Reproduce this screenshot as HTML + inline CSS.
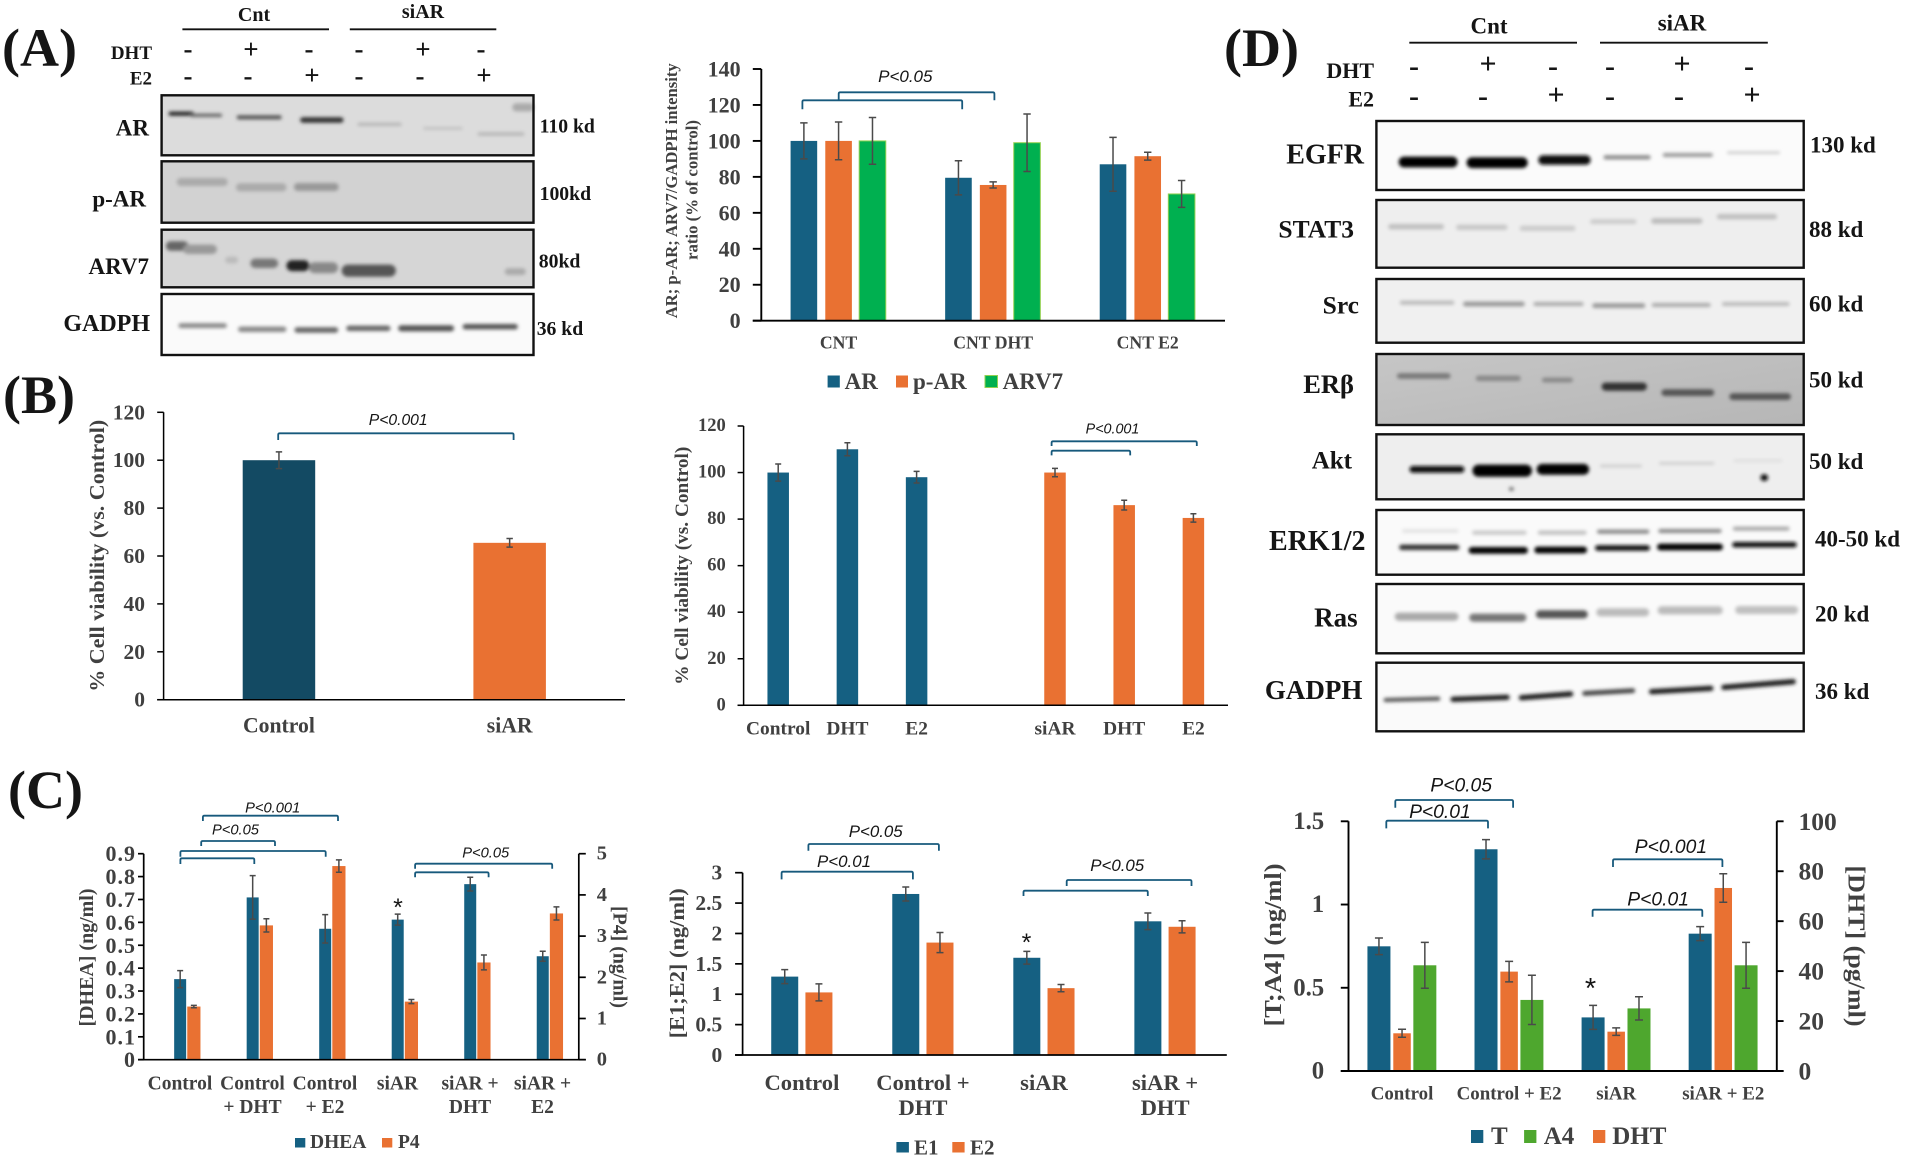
<!DOCTYPE html>
<html lang="en">
<head>
<meta charset="utf-8">
<title>Western blots and bar charts, panels A to D</title>
<style>
html,body{margin:0;padding:0;background:#fff;}
svg{display:block;filter:blur(0.35px);}
text{font-family:"Liberation Serif",serif;font-weight:bold;fill:#404040;dominant-baseline:central;}
text.k{fill:#151515;}
text.p{font-family:"Liberation Sans",sans-serif;font-weight:normal;font-style:italic;fill:#151515;text-anchor:middle;}
text.r{text-anchor:end;}
text.m{text-anchor:middle;}
</style>
</head>
<body>
<svg id="figure" xmlns="http://www.w3.org/2000/svg" width="1907" height="1159" viewBox="0 0 1907 1159">
<defs>
<filter id="soft" filterUnits="userSpaceOnUse" x="0" y="0" width="1907" height="1159"><feGaussianBlur stdDeviation="1.8"/></filter>
<linearGradient id="er-bg" x1="0" y1="0" x2="1" y2="1"><stop offset="0" stop-color="#c6c6c6"/><stop offset="1" stop-color="#b6b6b6"/></linearGradient>
</defs>
<rect width="1907" height="1159" fill="#fff"/>

<!-- panel letters -->
<text class="k" x="2" y="48" font-size="54">(A)</text>
<text class="k" x="3" y="395" font-size="54">(B)</text>
<text class="k" x="8" y="790" font-size="54">(C)</text>
<text class="k" x="1224" y="48" font-size="54">(D)</text>

<!-- blot A header -->
<g>
<text class="k m" x="254" y="15" font-size="20">Cnt</text>
<text class="k m" x="423" y="12" font-size="20">siAR</text>
<line x1="182.4" x2="329" y1="29.3" y2="29.3" stroke="#111" stroke-width="1.8"/>
<line x1="349.8" x2="496.3" y1="29.3" y2="29.3" stroke="#111" stroke-width="1.8"/>
<text class="k r" x="152" y="53.3" font-size="19">DHT</text>
<text class="k r" x="152" y="79" font-size="19">E2</text>
<g font-size="27">
<text class="k m" x="188" y="49">-</text><text class="k m" x="251" y="49">+</text><text class="k m" x="309" y="49">-</text><text class="k m" x="359" y="49">-</text><text class="k m" x="423" y="49">+</text><text class="k m" x="481" y="49">-</text>
<text class="k m" x="188" y="76">-</text><text class="k m" x="248" y="76">-</text><text class="k m" x="312" y="75">+</text><text class="k m" x="359" y="76">-</text><text class="k m" x="420" y="76">-</text><text class="k m" x="484" y="75">+</text>
</g>
<text class="k r" x="149" y="128" font-size="23">AR</text>
<text class="k r" x="146" y="199" font-size="23">p-AR</text>
<text class="k r" x="149" y="266.7" font-size="23">ARV7</text>
<text class="k r" x="150" y="324" font-size="24">GADPH</text>
<text class="k" x="539.6" y="126.7" font-size="19.7">110 kd</text>
<text class="k" x="539.6" y="194" font-size="19.7">100kd</text>
<text class="k" x="538.8" y="261.7" font-size="19.7">80kd</text>
<text class="k" x="536.7" y="329" font-size="19.7">36 kd</text>
</g>

<!-- blot D header -->
<g>
<text class="k m" x="1489" y="26" font-size="23">Cnt</text>
<text class="k m" x="1682" y="23" font-size="23">siAR</text>
<line x1="1409.3" x2="1577" y1="42.7" y2="42.7" stroke="#111" stroke-width="1.9"/>
<line x1="1600" x2="1767.8" y1="42.7" y2="42.7" stroke="#111" stroke-width="1.9"/>
<text class="k r" x="1374" y="70.7" font-size="22">DHT</text>
<text class="k r" x="1374" y="99" font-size="22">E2</text>
<g font-size="30">
<text class="k m" x="1414" y="66">-</text><text class="k m" x="1488" y="64">+</text><text class="k m" x="1553" y="66">-</text><text class="k m" x="1610" y="66">-</text><text class="k m" x="1682" y="64">+</text><text class="k m" x="1749" y="66">-</text>
<text class="k m" x="1414" y="96">-</text><text class="k m" x="1483" y="96">-</text><text class="k m" x="1556" y="95">+</text><text class="k m" x="1610" y="96">-</text><text class="k m" x="1679" y="96">-</text><text class="k m" x="1752" y="95">+</text>
</g>
<text class="k r" x="1364" y="155" font-size="28">EGFR</text>
<text class="k r" x="1354" y="229" font-size="25.5">STAT3</text>
<text class="k r" x="1359" y="305" font-size="25.5">Src</text>
<text class="k r" x="1354" y="384" font-size="26.5">ERβ</text>
<text class="k r" x="1352" y="461" font-size="25">Akt</text>
<text class="k r" x="1365.5" y="541.7" font-size="28">ERK1/2</text>
<text class="k r" x="1357.6" y="617.3" font-size="27">Ras</text>
<text class="k r" x="1362.4" y="690" font-size="27">GADPH</text>
<text class="k" x="1810" y="145" font-size="23">130 kd</text>
<text class="k" x="1809" y="229.3" font-size="23">88 kd</text>
<text class="k" x="1809" y="304" font-size="23">60 kd</text>
<text class="k" x="1809" y="380" font-size="23">50 kd</text>
<text class="k" x="1809" y="461.7" font-size="23">50 kd</text>
<text class="k" x="1815" y="539" font-size="23">40-50 kd</text>
<text class="k" x="1815" y="614" font-size="23">20 kd</text>
<text class="k" x="1815" y="691.7" font-size="23">36 kd</text>
</g>

<!-- axis titles -->
<text class="m" transform="translate(671.4,190.8) rotate(-90)" font-size="16.5" textLength="255" lengthAdjust="spacingAndGlyphs">AR; p-AR; ARV7/GADPH intensity</text>
<text class="m" transform="translate(691.8,190) rotate(-90)" font-size="16.5" textLength="140" lengthAdjust="spacingAndGlyphs">ratio (% of control)</text>
<text class="m" transform="translate(96.8,555.8) rotate(-90)" font-size="21" textLength="272" lengthAdjust="spacingAndGlyphs">% Cell viability (vs. Control)</text>
<text class="m" transform="translate(682.5,565.7) rotate(-90)" font-size="19" textLength="238" lengthAdjust="spacingAndGlyphs">% Cell viability (vs. Control)</text>
<text class="m" transform="translate(87,957.5) rotate(-90)" font-size="20" textLength="138" lengthAdjust="spacingAndGlyphs">[DHEA] (ng/ml)</text>
<text class="m" transform="translate(619.6,957) rotate(90)" font-size="20" textLength="102" lengthAdjust="spacingAndGlyphs">[P4] (ng/ml)</text>
<text class="m" transform="translate(677,963.3) rotate(-90)" font-size="21" textLength="150" lengthAdjust="spacingAndGlyphs">[E1;E2] (ng/ml)</text>
<text class="m" transform="translate(1274,945) rotate(-90)" font-size="24" textLength="163" lengthAdjust="spacingAndGlyphs">[T;A4] (ng/ml)</text>
<text class="m" transform="translate(1855.5,946) rotate(90)" font-size="24" textLength="161" lengthAdjust="spacingAndGlyphs">[DHT] (pg/ml)</text>

<!-- legends -->
<g>
<rect x="827.6" y="375.5" width="12.2" height="12" fill="#156082"/>
<text x="844.6" y="381.7" font-size="23">AR</text>
<rect x="896" y="375.5" width="12" height="12" fill="#e97132"/>
<text x="913" y="381.7" font-size="23">p-AR</text>
<rect x="985" y="375.5" width="12.5" height="12" fill="#00b050" stroke="#92d050"/>
<text x="1002.6" y="381.7" font-size="23">ARV7</text>
</g>
<g>
<rect x="295" y="1138" width="10.3" height="9.5" fill="#156082"/>
<text x="310" y="1142.7" font-size="19.5">DHEA</text>
<rect x="382" y="1138" width="10.3" height="9.5" fill="#e97132"/>
<text x="398" y="1142.7" font-size="19.5">P4</text>
</g>
<g>
<rect x="896.4" y="1142" width="12.5" height="10.5" fill="#156082"/>
<text x="914" y="1147.3" font-size="21">E1</text>
<rect x="952.3" y="1142" width="12.3" height="10.5" fill="#e97132"/>
<text x="970" y="1147.3" font-size="21">E2</text>
</g>
<g>
<rect x="1471" y="1130" width="12.3" height="13" fill="#156082"/>
<text x="1491" y="1136.7" font-size="25">T</text>
<rect x="1524.1" y="1130" width="12.3" height="13" fill="#4ea72e"/>
<text x="1543.7" y="1136.7" font-size="25">A4</text>
<rect x="1593" y="1130" width="12.3" height="13" fill="#e97132"/>
<text x="1612.2" y="1136.7" font-size="25">DHT</text>
</g>

<!-- significance annotations text -->
<g>
<text class="p" x="905.3" y="76.7" font-size="17">P&lt;0.05</text>
<text class="p" x="398.2" y="420.7" font-size="15.7">P&lt;0.001</text>
<text class="p" x="1112.5" y="429.3" font-size="14.3">P&lt;0.001</text>
<text class="p" x="272.7" y="808.3" font-size="14.7">P&lt;0.001</text>
<text class="p" x="235.5" y="830.7" font-size="14.7">P&lt;0.05</text>
<text class="p" x="485.7" y="853.7" font-size="14.7">P&lt;0.05</text>
<text class="p" x="875.7" y="831.7" font-size="16.9">P&lt;0.05</text>
<text class="p" x="844" y="861.7" font-size="16.9">P&lt;0.01</text>
<text class="p" x="1117.2" y="865.3" font-size="16.9">P&lt;0.05</text>
<text class="p" x="1461.2" y="786" font-size="19.3">P&lt;0.05</text>
<text class="p" x="1439.9" y="812.7" font-size="19.3">P&lt;0.01</text>
<text class="p" x="1670.9" y="847.3" font-size="19.3">P&lt;0.001</text>
<text class="p" x="1658.1" y="900" font-size="19.3">P&lt;0.01</text>
<text class="k m" style="font-family:'Liberation Sans',sans-serif;font-weight:normal" x="398" y="908" font-size="25">*</text>
<text class="k m" style="font-family:'Liberation Sans',sans-serif;font-weight:normal" x="1026.5" y="943" font-size="25">*</text>
<text class="k m" style="font-family:'Liberation Sans',sans-serif;font-weight:normal" x="1590.5" y="989" font-size="29">*</text>
</g>
</svg>

<script>
// ---- Chart data: AR / p-AR / ARV7 band ratio ----
const ratioCategories = ['CNT', 'CNT DHT', 'CNT E2'];
const ratioTicks = [0, 20, 40, 60, 80, 100, 120, 140];
const ratioAR = [100, 79.5, 87];
const ratioAREr = [10, 9.5, 15];
const ratioPAR = [100, 75.5, 91.5];
const ratioPAREr = [10.5, 1.7, 2.2];
const ratioARV7 = [100, 99, 70.5];
const ratioARV7Er = [13, 16, 7.5];

// ---- Chart data: cell viability, control vs siAR ----
const viabilityCategories = ['Control', 'siAR'];
const viabilityTicks = [0, 20, 40, 60, 80, 100, 120];
const viabilityControl = [100, null];
const viabilityControlEr = [3.5, null];
const viabilitySiAR = [null, 65.5];
const viabilitySiAREr = [null, 1.8];

// ---- Chart data: cell viability by treatment ----
const treatmentCategories = ['Control', 'DHT', 'E2', '', 'siAR', 'DHT', 'E2'];
const treatmentTicks = [0, 20, 40, 60, 80, 100, 120];
const treatmentControl = [100, 110, 98, null, null, null, null];
const treatmentControlEr = [3.7, 2.8, 2.5, null, null, null, null];
const treatmentSiAR = [null, null, null, null, 100, 86, 80.5];
const treatmentSiAREr = [null, null, null, null, 1.8, 2.1, 1.8];

// ---- Chart data: DHEA and P4 ----
const dheaCategories = ['Control', 'Control\n+ DHT', 'Control\n+ E2', 'siAR', 'siAR +\nDHT', 'siAR +\nE2'];
const dheaTicks = [0, 0.1, 0.2, 0.3, 0.4, 0.5, 0.6, 0.7, 0.8, 0.9];
const p4Ticks = [0, 1, 2, 3, 4, 5];
const dheaValues = [0.352, 0.709, 0.572, 0.612, 0.767, 0.452];
const dheaEr = [0.037, 0.095, 0.062, 0.024, 0.03, 0.022];
const p4Values = [1.29, 3.26, 4.7, 1.41, 2.36, 3.55];
const p4Er = [0.03, 0.16, 0.15, 0.05, 0.18, 0.16];

// ---- Chart data: E1 and E2 ----
const estrogenCategories = ['Control', 'Control +\nDHT', 'siAR', 'siAR +\nDHT'];
const estrogenTicks = [0, 0.5, 1, 1.5, 2, 2.5, 3];
const e1Values = [1.29, 2.65, 1.6, 2.2];
const e1Er = [0.115, 0.115, 0.105, 0.137];
const e2Values = [1.03, 1.85, 1.1, 2.11];
const e2Er = [0.14, 0.165, 0.06, 0.1];

// ---- Chart data: T, DHT and A4 ----
const androgenCategories = ['Control', 'Control + E2', 'siAR', 'siAR + E2'];
const androgenTicks = [0, 0.5, 1, 1.5];
const dhtTicks = [0, 20, 40, 60, 80, 100];
const tValues = [0.749, 1.332, 0.322, 0.825];
const tEr = [0.05, 0.058, 0.072, 0.042];
const dhtValues = [15.1, 39.8, 15.75, 73.3];
const dhtEr = [1.6, 4.1, 1.5, 5.7];
const a4Values = [0.635, 0.427, 0.376, 0.635];
const a4Er = [0.138, 0.148, 0.07, 0.138];

const SVG_NS = 'http://www.w3.org/2000/svg';
const fig = document.getElementById('figure');
const BLUE = '#156082', ORANGE = '#e97132', GREEN = '#00b050', LEAF = '#4ea72e';

function el(tag, attrs, parent) {
  const node = document.createElementNS(SVG_NS, tag);
  for (const k in attrs) node.setAttribute(k, attrs[k]);
  (parent || fig).appendChild(node);
  return node;
}

function drawChart(c) {
  const group = el('g', {});
  
  
  const step = (c.right - c.left) / c.categories.length;
  const xScale = i => c.left + (i + 0.5) * step;
  const yScale = (v, max) => c.bottom - (v / max) * (c.bottom - c.top);

  c.series.forEach(s => {
    s.values.forEach((v, i) => {
      if (v === null) return;
      const cx = xScale(i) + s.offset;
      const bar = el('rect', {
        x: cx - s.width / 2, y: yScale(v, s.max), width: s.width,
        height: c.bottom - yScale(v, s.max), fill: s.color
      }, group);
      if (s.stroke) { bar.setAttribute('stroke', s.stroke); bar.setAttribute('stroke-width', '1'); }
      
      
      const hi = yScale(v + s.errors[i], s.max), lo = yScale(v - s.errors[i], s.max);
      const err = el('path', {
        d: 'M' + cx + ' ' + hi + 'V' + lo + 'M' + (cx - c.cap) + ' ' + hi + 'H' + (cx + c.cap) + 'M' + (cx - c.cap) + ' ' + lo + 'H' + (cx + c.cap),
        stroke: '#4a4a4a', 'stroke-width': 1.5, fill: 'none'
      }, group);
      
      
    });
  });

  const rightEnd = c.rightAxis ? c.right + c.rightAxis.tick : c.right;
  const xAxis = el('line', { x1: c.left - c.tick, x2: rightEnd, y1: c.bottom, y2: c.bottom, stroke: '#000', 'stroke-width': c.axisWidth }, group);
  
  
  const yAxis = el('line', { x1: c.left, x2: c.left, y1: c.top, y2: c.bottom, stroke: '#000', 'stroke-width': c.axisWidth }, group);
  
  

  c.ticks.forEach(t => {
    const y = yScale(t, c.max);
    const tm = el('line', { x1: c.left - c.tick, x2: c.left, y1: y, y2: y, stroke: '#000', 'stroke-width': c.axisWidth }, group);
    
    
    const lb = el('text', { x: c.left - c.tickLabelGap, y: y, 'font-size': c.tickFont, 'text-anchor': 'end' }, group);
    if (c.tickSpacing) lb.setAttribute('letter-spacing', c.tickSpacing);
    lb.textContent = String(t);
    
    
  });

  if (c.rightAxis) {
    const ra = c.rightAxis;
    const rAxis = el('line', { x1: c.right, x2: c.right, y1: c.top, y2: c.bottom, stroke: '#000', 'stroke-width': c.axisWidth }, group);
    
    
    ra.ticks.forEach(t => {
      const y = yScale(t, ra.max);
      const tm = el('line', { x1: c.right, x2: c.right + ra.tick, y1: y, y2: y, stroke: '#000', 'stroke-width': c.axisWidth }, group);
      
      
      const lb = el('text', { x: c.right + ra.labelGap, y: y, 'font-size': ra.font }, group);
      lb.textContent = String(t);
      
      
    });
  }

  c.categories.forEach((cat, i) => {
    cat.split('\n').forEach((line, j) => {
      const lb = el('text', { x: xScale(i) + c.labelDx, y: c.labelY + j * c.labelLine, 'font-size': c.labelFont, 'text-anchor': 'middle' }, group);
      lb.textContent = line;
      
      
    });
  });
}

drawChart({
  name: 'band-ratio', categories: ratioCategories, ticks: ratioTicks, max: 140,
  left: 761.3, right: 1225, bottom: 320.7, top: 69, tick: 8.5, axisWidth: 1.9, cap: 3.7,
  tickLabelGap: 20.7, tickFont: 22, labelY: 342.3, labelLine: 0, labelFont: 17.7, labelDx: 0,
  series: [
    { name: 'ar', values: ratioAR, errors: ratioAREr, color: BLUE, width: 26.6, offset: -34.7, max: 140 },
    { name: 'p-ar', values: ratioPAR, errors: ratioPAREr, color: ORANGE, width: 26.6, offset: 0, max: 140 },
    { name: 'arv7', values: ratioARV7, errors: ratioARV7Er, color: GREEN, stroke: '#92d050', width: 26.6, offset: 33.9, max: 140 }
  ]
});
drawChart({
  name: 'viability', categories: viabilityCategories, ticks: viabilityTicks, max: 120,
  left: 163.6, right: 625, bottom: 699.7, top: 412.3, tick: 6.4, axisWidth: 1.5, cap: 3.2,
  tickLabelGap: 18.6, tickFont: 21.5, labelY: 725.7, labelLine: 0, labelFont: 21.7, labelDx: 0,
  series: [
    { name: 'control', values: viabilityControl, errors: viabilityControlEr, color: '#134a63', width: 72.5, offset: 0, max: 120 },
    { name: 'siar', values: viabilitySiAR, errors: viabilitySiAREr, color: ORANGE, width: 72.5, offset: 0, max: 120 }
  ]
});
drawChart({
  name: 'viability-treatment', categories: treatmentCategories, ticks: treatmentTicks, max: 120,
  left: 743.6, right: 1228, bottom: 705.3, top: 426, tick: 6, axisWidth: 1.5, cap: 3,
  tickLabelGap: 17.8, tickFont: 18.5, labelY: 729, labelLine: 0, labelFont: 19.4, labelDx: 0,
  series: [
    { name: 'control', values: treatmentControl, errors: treatmentControlEr, color: BLUE, width: 21.5, offset: 0, max: 120 },
    { name: 'siar', values: treatmentSiAR, errors: treatmentSiAREr, color: ORANGE, width: 21.5, offset: 0, max: 120 }
  ]
});
drawChart({
  name: 'dhea-p4', categories: dheaCategories, ticks: dheaTicks, max: 0.9,
  left: 143.7, right: 578.8, bottom: 1059.7, top: 853.7, tick: 5.7, axisWidth: 1.7, cap: 3,
  tickLabelGap: 7.7, tickFont: 22, tickSpacing: 1, labelY: 1084, labelLine: 23.7, labelFont: 19.5, labelDx: 0,
  rightAxis: { ticks: p4Ticks, max: 5, tick: 7, labelGap: 17.9, font: 20.5 },
  series: [
    { name: 'dhea', values: dheaValues, errors: dheaEr, color: BLUE, width: 12, offset: 0.2, max: 0.9 },
    { name: 'p4', values: p4Values, errors: p4Er, color: ORANGE, width: 13.2, offset: 13.9, max: 5 }
  ]
});
drawChart({
  name: 'estrogen', categories: estrogenCategories, ticks: estrogenTicks, max: 3,
  left: 742.6, right: 1226.8, bottom: 1055, top: 872.7, tick: 7.5, axisWidth: 1.7, cap: 3.5,
  tickLabelGap: 20.3, tickFont: 21.5, labelY: 1082.3, labelLine: 25, labelFont: 22.6, labelDx: -1.2,
  series: [
    { name: 'e1', values: e1Values, errors: e1Er, color: BLUE, width: 27, offset: -18.4, max: 3 },
    { name: 'e2', values: e2Values, errors: e2Er, color: ORANGE, width: 27, offset: 15.8, max: 3 }
  ]
});
drawChart({
  name: 'androgen', categories: androgenCategories, ticks: androgenTicks, max: 1.5,
  left: 1348.5, right: 1776.8, bottom: 1071, top: 821.3, tick: 7.7, axisWidth: 1.9, cap: 4,
  tickLabelGap: 24.3, tickFont: 24.8, labelY: 1094, labelLine: 0, labelFont: 18.9, labelDx: 0,
  rightAxis: { ticks: dhtTicks, max: 100, tick: 6.8, labelGap: 21.7, font: 25.5 },
  series: [
    { name: 't', values: tValues, errors: tEr, color: BLUE, width: 23, offset: -23.1, max: 1.5 },
    { name: 'dht', values: dhtValues, errors: dhtEr, color: ORANGE, width: 17.5, offset: 0, max: 100 },
    { name: 'a4', values: a4Values, errors: a4Er, color: LEAF, width: 23, offset: 22.8, max: 1.5 }
  ]
});

// ---- Significance brackets (panel annotations, not data) ----
function bracket(name, x1, x2, y, drop) {
  const r = 1.5;
  let d = 'M' + x1 + ' ' + (y + drop) + 'V' + (y + r) + 'Q' + x1 + ' ' + y + ' ' + (x1 + r) + ' ' + y +
    'H' + (x2 - r) + 'Q' + x2 + ' ' + y + ' ' + x2 + ' ' + (y + r) + 'V' + (y + drop);
  const path = el('path', { d: d, stroke: '#17597c', 'stroke-width': 1.8, fill: 'none' });
  
  
}
bracket('bracket-band-ratio-1', 802.4, 962.2, 100.3, 9);
bracket('bracket-band-ratio-2', 838.7, 994.4, 92.3, 8);
bracket('bracket-viability', 278.2, 513.6, 433.3, 6.7);
bracket('bracket-treatment-1', 1051.6, 1196.8, 441.3, 4.7);
bracket('bracket-treatment-2', 1051.6, 1130.2, 450.7, 4.7);
bracket('bracket-dhea-1', 180.4, 254.3, 858.3, 5.7);
bracket('bracket-dhea-2', 180.4, 325.7, 851, 5.7);
bracket('bracket-dhea-3', 201.2, 275, 841, 5);
bracket('bracket-dhea-4', 202.9, 338, 815.7, 5.3);
bracket('bracket-dhea-5', 415.1, 488.6, 872.3, 5);
bracket('bracket-dhea-6', 415.1, 552.2, 863.7, 5);
bracket('bracket-estrogen-1', 781.6, 912.9, 871.7, 7.7);
bracket('bracket-estrogen-2', 808.4, 938.9, 844, 6.7);
bracket('bracket-estrogen-3', 1023.5, 1147.8, 890.7, 5.3);
bracket('bracket-estrogen-4', 1066.7, 1191.5, 880, 6);
bracket('bracket-androgen-1', 1386.3, 1488, 820.7, 7.7);
bracket('bracket-androgen-2', 1395.3, 1513.1, 800, 7.7);
bracket('bracket-androgen-3', 1613, 1722.4, 859.3, 7.7);
bracket('bracket-androgen-4', 1592.6, 1702.3, 909.7, 7);

// ---- Western blot panels ----
function blot(name, fx, ox, oy, x1, x2, y1, y2, fill, bands) {
  const group = el('g', {});
  
  
  const bg = el('rect', { x: x1, y: y1, width: x2 - x1, height: y2 - y1, fill: fill }, group);
  
  
  const blurred = el('g', { filter: 'url(#soft)' }, group);
  bands.forEach(b => {
    const tilt = b.length === 6;
    const yA = b[2], yB = tilt ? b[3] : b[2];
    const thick = tilt ? b[4] : b[3], col = tilt ? b[5] : b[4];
    const line = el('line', {
      x1: ox + b[0] / fx, x2: ox + b[1] / fx, y1: oy + yA / 3, y2: oy + yB / 3,
      stroke: col, 'stroke-width': thick * 1.35, 'stroke-linecap': 'round'
    }, blurred);
    
    
  });
  const frame = el('rect', { x: x1, y: y1, width: x2 - x1, height: y2 - y1, fill: 'none', stroke: '#111', 'stroke-width': 2.4 }, group);
  
  
}

const FA = 2.45, FD = 2.282;
blot('ar', FA, 0, 0, 161.6, 533.5, 95.3, 155.3, '#dcdcdc', [
  [418,470,341,3,'#222'],[470,540,346,2.5,'#666'],[585,685,352,3,'#555'],[742,835,360,4,'#333'],
  [880,980,373,2.5,'#b8b8b8'],[1040,1130,385,2,'#c0c0c0'],[1175,1280,402,3,'#bbb'],[1265,1298,322,6,'#aaa']]);
blot('p-ar', FA, 0, 0, 161.6, 533.5, 161.3, 222.7, '#d2d2d2', [
  [443,548,546,6,'#aaa'],[588,692,562,6,'#aaa'],[730,820,561,6,'#999']]);
blot('arv7', FA, 0, 0, 161.6, 533.5, 229.7, 287.3, '#d6d6d6', [
  [418,450,738,7,'#666'],[460,520,748,7,'#999'],[560,575,780,5,'#bbb'],[625,670,790,7,'#777'],
  [715,745,797,8,'#222'],[770,815,803,8,'#888'],[852,955,812,9,'#555'],[1245,1280,815,5,'#aaa']]);
blot('gadph-a', FA, 0, 0, 161.6, 533.5, 294, 355, '#fafafa', [
  [443,550,977,3.5,'#888'],[590,695,988,4,'#888'],[728,822,990,4,'#666'],[855,950,985,4,'#666'],
  [983,1105,985,4.5,'#555'],[1140,1262,980,4,'#555']]);

const DX = 1376.4, DR = 1803.7, OX = 1220;
blot('egfr', FD, OX, 0, DX, DR, 121, 190, '#fbfbfb', [
  [420,530,486,8,'#000'],[575,690,488,8,'#050505'],[737,835,480,7,'#111'],
  [880,978,472,3,'#888'],[1015,1120,465,3,'#999'],[1160,1275,458,2,'#ccc']]);
blot('stat3', FD, OX, 0, DX, DR, 200, 267.7, '#eeeeee', [
  [390,505,680,4,'#c0c0c0'],[545,650,682,4,'#c8c8c8'],[690,805,685,4,'#ccc'],
  [850,945,665,3.5,'#ccc'],[990,1095,663,4,'#bbb'],[1140,1265,650,4,'#c0c0c0']]);
blot('src', FD, OX, 0, DX, DR, 279, 342.7, '#f0f0f0', [
  [415,530,908,3,'#bbb'],[560,690,912,3.5,'#999'],[720,825,912,3,'#aaa'],
  [855,965,917,3.5,'#999'],[990,1115,915,3,'#aaa'],[1150,1295,912,3,'#bbb']]);
blot('er-beta', FD, OX, 0, DX, DR, 354, 425, 'url(#er-bg)', [
  [410,520,1128,4,'#777'],[590,680,1135,4,'#888'],[740,800,1140,3.5,'#888'],
  [880,965,1160,6,'#333'],[1015,1120,1178,5,'#555'],[1170,1295,1190,5,'#555']]);
blot('akt', FD, OX, 390, DX, DR, 434.3, 499.3, '#eeeeee', [
  [440,550,238,5,'#111'],[590,698,242,9,'#000'],[735,830,238,8,'#000'],
  [870,960,228,2,'#ccc'],[1005,1125,220,2,'#ccc'],[1175,1280,212,2,'#ddd'],[1241,1243,263,5,'#111'],[664,666,297,3,'#777']]);
blot('erk', FD, OX, 390, DX, DR, 510, 574.7, '#fafafa', [
  [420,540,423,3,'#e4e4e4'],[580,695,428,3,'#c8c8c8'],[730,832,428,3,'#c0c0c0'],[865,975,425,3,'#888'],[1005,1140,423,3,'#888'],[1175,1295,416,3,'#aaa'],
  [415,540,472,4,'#333'],[575,695,481,5,'#000'],[725,830,480,5,'#000'],[862,975,474,4,'#111'],[1005,1140,471,5,'#000'],[1175,1310,464,4,'#111']]);
blot('ras', FD, OX, 390, DX, DR, 584, 653.3, '#fafafa', [
  [408,535,680,6,'#aaa'],[578,690,683,6,'#777'],[730,830,673,6,'#555'],
  [868,970,667,6,'#bbb'],[1008,1138,661,6,'#bbb'],[1185,1310,660,6,'#c0c0c0']]);
blot('gadph-d', FD, OX, 390, DX, DR, 662.7, 731.3, '#fafafa', [
  [378,498,930,926,3,'#555'],[532,655,928,922,4,'#222'],[688,800,923,912,4,'#222'],
  [832,942,910,902,3.5,'#444'],[985,1120,905,895,4,'#222'],[1150,1308,892,875,4,'#222']]);
</script>
</body>
</html>
